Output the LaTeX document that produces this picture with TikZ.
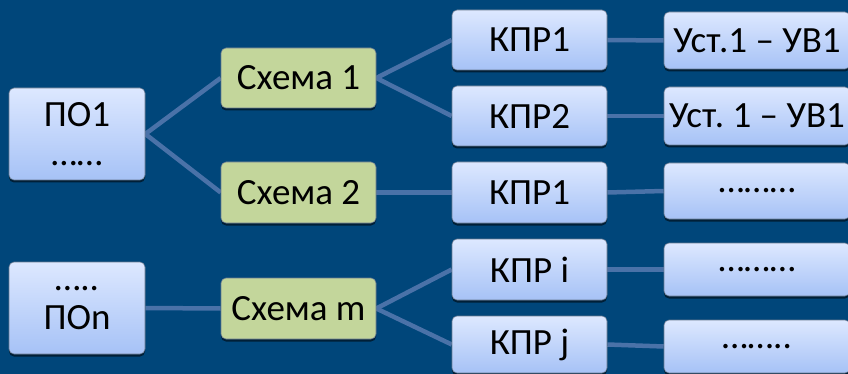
\documentclass[tikz,border=0pt]{standalone}
\usepackage{fontspec}
\setmainfont{Carlito}
\usetikzlibrary{shadows}
\frenchspacing
\pgfdeclarelayer{bg}
\pgfdeclarelayer{lines}
\pgfsetlayers{bg,lines,main}
\definecolor{bgblue}{HTML}{00467A}
\definecolor{linkblue}{HTML}{4A72A8}
\definecolor{topblue}{HTML}{DDE8FF}
\definecolor{botblue}{HTML}{A6C2F6}
\definecolor{greenbox}{HTML}{C3D69B}
\definecolor{edgegray}{HTML}{6A7A90}
\begin{document}
\begin{tikzpicture}[x=1pt,y=-1pt,
  base/.style={rounded corners=5pt, draw=edgegray, line width=0.6pt,
    font=\fontsize{37}{39}\selectfont, align=center, inner sep=0pt,
    drop shadow={shadow xshift=0pt, shadow yshift=-2.5pt, opacity=0.55, fill=black}},
  bluebox/.style={base, top color=topblue, bottom color=botblue},
  greenbox/.style={base, fill=greenbox},
  link/.style={draw=linkblue, line width=4.5pt}]
\useasboundingbox (0,0) rectangle (848,374);
\begin{pgfonlayer}{bg}
\fill[bgblue] (0,0) rectangle (848,374);
\end{pgfonlayer}
\clip (0,0) rectangle (848,374);
% nodes
\node[bluebox, minimum width=136pt, minimum height=92pt] (po1) at (77,134) {ПО1\\……};
\node[bluebox, minimum width=136pt, minimum height=92pt] (pon) at (77,308) {…..\\ПОn};
\node[greenbox, minimum width=155pt, minimum height=60pt] (s1) at (298.5,78) {Схема 1};
\node[greenbox, minimum width=155pt, minimum height=61pt] (s2) at (298.5,192.5) {Схема 2};
\node[greenbox, minimum width=155pt, minimum height=61pt] (sm) at (298.5,308.5) {Схема m};
\node[bluebox, minimum width=155pt, minimum height=60pt] (k1) at (529.5,40) {КПР1};
\node[bluebox, minimum width=155pt, minimum height=60pt] (k2) at (529.5,116) {КПР2};
\node[bluebox, minimum width=155pt, minimum height=61pt] (k3) at (529.5,192.5) {КПР1};
\node[bluebox, minimum width=155pt, minimum height=61pt] (ki) at (529.5,269.5) {КПР i};
\node[bluebox, minimum width=155pt, minimum height=57pt] (kj) at (529.5,344.5) {КПР j};
\node[bluebox, minimum width=186pt, minimum height=57pt] (r1) at (757,40.5) {Уст.1 – УВ1};
\node[bluebox, minimum width=186pt, minimum height=58pt] (r2) at (757,116) {Уст. 1 – УВ1};
\node[bluebox, minimum width=186pt, minimum height=56pt] (r3) at (757,191) {………};
\node[bluebox, minimum width=186pt, minimum height=53pt] (r4) at (757,269.5) {………};
\node[bluebox, minimum width=186pt, minimum height=53pt] (r5) at (757,346.5) {……..};
% connectors (behind the boxes)
\begin{pgfonlayer}{lines}
\path[link] (po1.east) -- (s1.west);
\path[link] (po1.east) -- (s2.west);
\path[link] (pon.east) -- (sm.west);
\path[link] (s1.east) -- (k1.west);
\path[link] (s1.east) -- (k2.west);
\path[link] (s2.east) -- (k3.west);
\path[link] (sm.east) -- (ki.west);
\path[link] (sm.east) -- (kj.west);
\path[link] (k1.east) -- (r1.west);
\path[link] (k2.east) -- (r2.west);
\path[link] (k3.east) -- (r3.west);
\path[link] (ki.east) -- (r4.west);
\path[link] (kj.east) -- (r5.west);
\end{pgfonlayer}
\end{tikzpicture}
\end{document}
